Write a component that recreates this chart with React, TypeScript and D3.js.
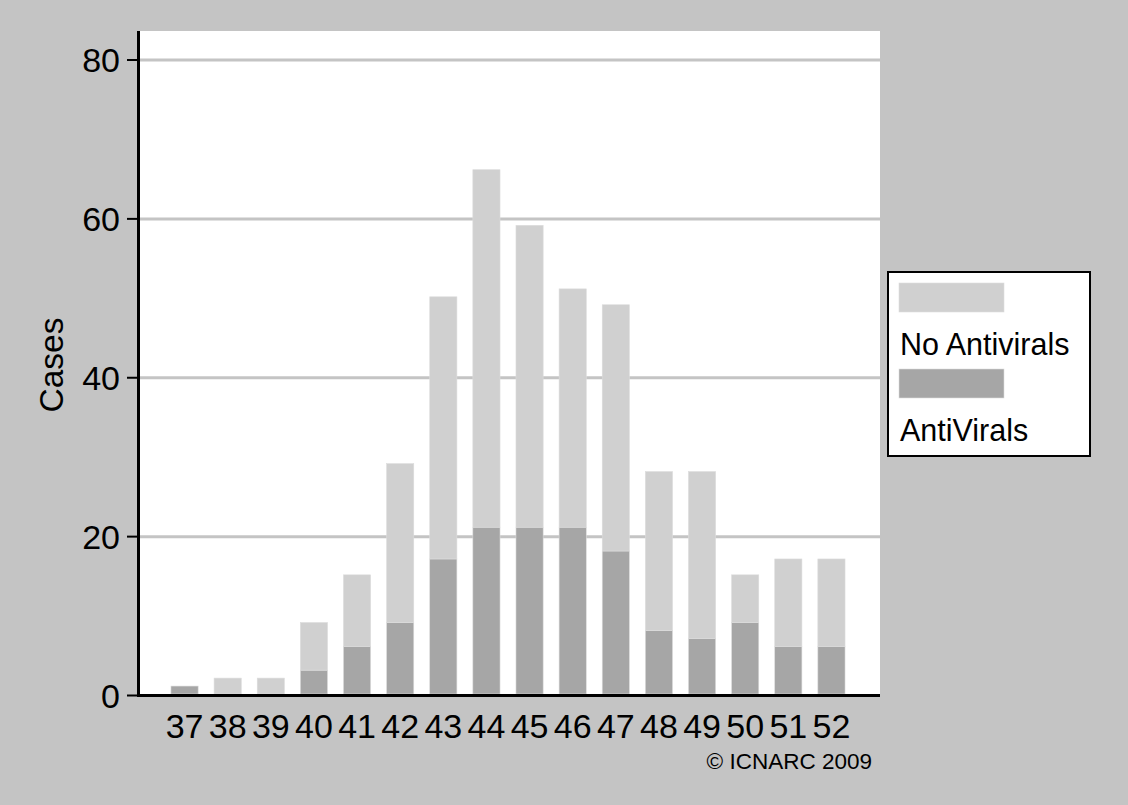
import React from "react";
import * as d3 from "d3";

const weeks = ["37", "38", "39", "40", "41", "42", "43", "44", "45", "46", "47", "48", "49", "50", "51", "52"];
const antiVirals = [1, 0, 0, 3, 6, 9, 17, 21, 21, 21, 18, 8, 7, 9, 6, 6];
const noAntivirals = [0, 2, 2, 6, 9, 20, 33, 45, 38, 30, 31, 20, 21, 6, 11, 11];
const yTicks = [0, 20, 40, 60, 80];
const seriesNames = ["AntiVirals", "No Antivirals"];
const legendOrder = ["No Antivirals", "AntiVirals"];

const W = 1128;
const H = 805;
const FONT = "'Liberation Sans', Arial, Helvetica, sans-serif";
const colors: Record<string, string> = { "AntiVirals": "#a6a6a6", "No Antivirals": "#d0d0d0" };

export default function App() {
  const plotLeft = 140;
  const plotRight = 880;
  const plotTop = 31;
  const x = d3.scaleBand<string>().domain(weeks).range([163, 853]).paddingInner(0.37).paddingOuter(0.185);
  const y = d3.scaleLinear().domain([0, 80]).range([695.5, 60]);

  const table = weeks.map((w, i) => ({ week: w, "AntiVirals": antiVirals[i], "No Antivirals": noAntivirals[i] }));
  const stacked = d3.stack<any>().keys(seriesNames)(table);

  return (
    <svg width={W} height={H} style={{ position: "absolute", left: 0, top: 0, display: "block" }} fontFamily={FONT}>
      <rect x={0} y={0} width={W} height={H} fill="#c4c4c4" />
      <rect x={plotLeft} y={plotTop} width={plotRight - plotLeft} height={695 - plotTop} fill="#ffffff" />
      {yTicks.filter(t => t > 0).map(t => (
        <line key={t} x1={plotLeft} x2={plotRight} y1={y(t)} y2={y(t)} stroke="#c4c4c4" strokeWidth={3} />
      ))}
      {stacked.map(s => (
        <g key={s.key} fill={colors[s.key]}>
          {s.map((d, i) => {
            const h = y(d[0]) - y(d[1]);
            if (h <= 0) return null;
            return (
              <rect key={i} x={x(weeks[i])!} y={y(d[1]) - 1.5} width={x.bandwidth()} height={h}
                stroke="#dcdcdc" strokeWidth={0.6} />
            );
          })}
        </g>
      ))}
      {/* axes */}
      <line x1={138.5} x2={138.5} y1={plotTop} y2={697} stroke="#000" strokeWidth={3} />
      <line x1={137} x2={plotRight} y1={695.5} y2={695.5} stroke="#000" strokeWidth={3} />
      {yTicks.map(t => (
        <g key={t}>
          <line x1={127} x2={139} y1={y(t)} y2={y(t)} stroke="#000" strokeWidth={2} />
          <text x={120} y={y(t)} dy="0.36em" textAnchor="end" fontSize={34} fill="#000">{t}</text>
        </g>
      ))}
      {weeks.map(w => (
        <text key={w} x={x(w)! + x.bandwidth() / 2} y={738} textAnchor="middle" fontSize={34} fill="#000">{w}</text>
      ))}
      <text x={872} y={769} textAnchor="end" fontSize={22.5} fill="#000">© ICNARC 2009</text>
      <text transform="translate(63,365) rotate(-90)" textAnchor="middle" fontSize={33.5} fill="#000">Cases</text>
      {/* legend */}
      <rect x={888} y={272} width={202} height={184} fill="#fff" stroke="#000" strokeWidth={2} />
      {legendOrder.map((k, i) => (
        <g key={k} transform={`translate(0,${i * 86})`}>
          <rect x={899} y={283} width={105} height={29} fill={colors[k]} stroke="#dcdcdc" strokeWidth={0.6} />
          <text x={900} y={355} fontSize={30.5} fill="#000">{k}</text>
        </g>
      ))}
    </svg>
  );
}
